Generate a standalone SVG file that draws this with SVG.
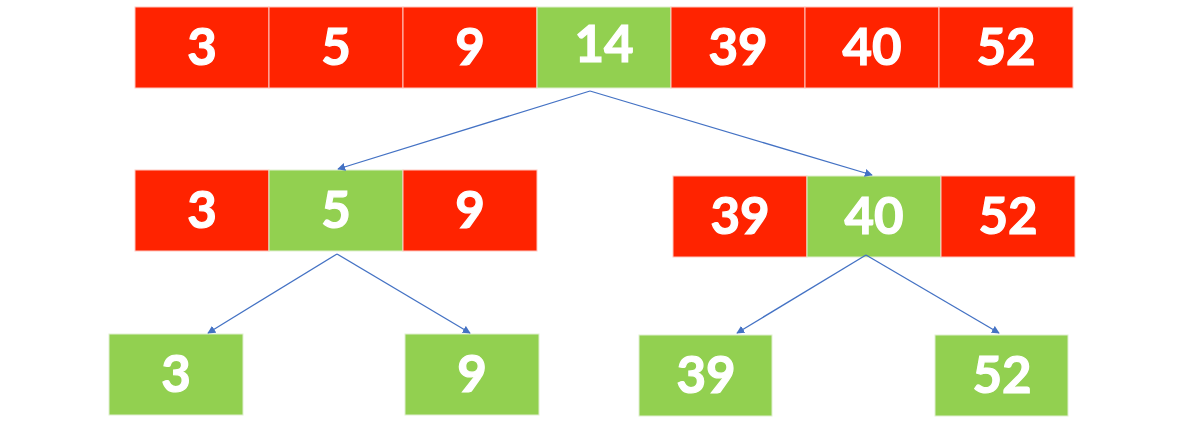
<svg xmlns="http://www.w3.org/2000/svg" width="1200" height="425" viewBox="0 0 1200 425">
<style>
.r{fill:#FF2300;stroke:#FFC8C0;stroke-width:1}
.g{fill:#92D050;stroke:#E0F0D0;stroke-width:1}
.t{font-family:Lato,"Open Sans","Liberation Sans",sans-serif;font-weight:bold;font-size:51px;fill:#FFFFFF;stroke:#FFFFFF;stroke-width:1.2;text-anchor:middle}
.c{stroke:#4472C4;stroke-width:1.3;fill:none;marker-end:url(#ah)}
</style>
<defs>
<marker id="ah" viewBox="0 0 10 10" refX="9" refY="5" markerWidth="8" markerHeight="8" markerUnits="userSpaceOnUse" orient="auto">
<path d="M0,0 L10,5 L0,10 z" fill="#4472C4"/>
</marker>
</defs>
<rect width="1200" height="425" fill="#FFFFFF"/>
<g id="top-row">
<g id="t3"><rect class="r" x="135" y="7" width="134" height="81"/><text class="t" x="202" y="65">3</text></g>
<g id="t5"><rect class="r" x="269" y="7" width="134" height="81"/><text class="t" x="336" y="65">5</text></g>
<g id="t9"><rect class="r" x="403" y="7" width="134" height="81"/><text class="t" x="470" y="65">9</text></g>
<g id="t14"><rect class="g" x="537" y="7" width="134" height="81"/><text class="t" x="604" y="62">14</text></g>
<g id="t39"><rect class="r" x="671" y="7" width="134" height="81"/><text class="t" x="738" y="65">39</text></g>
<g id="t40"><rect class="r" x="805" y="7" width="134" height="81"/><text class="t" x="872" y="65">40</text></g>
<g id="t52"><rect class="r" x="939" y="7" width="134" height="81"/><text class="t" x="1006" y="65">52</text></g>
</g>
<g id="mid-left">
<g id="ml3"><rect class="r" x="135" y="170" width="134" height="81"/><text class="t" x="202" y="228">3</text></g>
<g id="ml5"><rect class="g" x="269" y="170" width="134" height="81"/><text class="t" x="336" y="228">5</text></g>
<g id="ml9"><rect class="r" x="403" y="170" width="134" height="81"/><text class="t" x="470" y="228">9</text></g>
</g>
<g id="mid-right">
<g id="mr39"><rect class="r" x="673" y="176" width="134" height="81"/><text class="t" x="740" y="234">39</text></g>
<g id="mr40"><rect class="g" x="807" y="176" width="134" height="81"/><text class="t" x="874" y="234">40</text></g>
<g id="mr52"><rect class="r" x="941" y="176" width="134" height="81"/><text class="t" x="1008" y="234">52</text></g>
</g>
<g id="b3"><rect class="g" x="109" y="334" width="134" height="81"/><text class="t" x="176" y="392">3</text></g>
<g id="b9"><rect class="g" x="405" y="334" width="134" height="81"/><text class="t" x="472" y="392">9</text></g>
<g id="b39"><rect class="g" x="639" y="335" width="133" height="81"/><text class="t" x="706" y="393">39</text></g>
<g id="b52"><rect class="g" x="935" y="335" width="133" height="81"/><text class="t" x="1002" y="393">52</text></g>
<g id="connectors">
<path class="c" d="M590,91 L338,169"/>
<path class="c" d="M590,91 L872,175"/>
<path class="c" d="M337,254 L208,333"/>
<path class="c" d="M337,254 L470,333"/>
<path class="c" d="M866,255 L737,333"/>
<path class="c" d="M866,255 L999,333"/>
</g>
</svg>
